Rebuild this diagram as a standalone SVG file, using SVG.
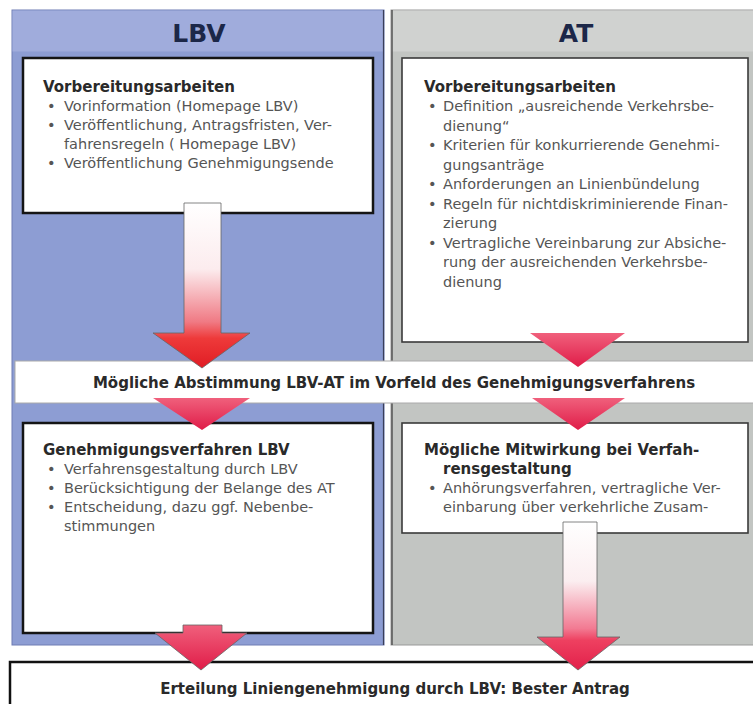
<svg xmlns="http://www.w3.org/2000/svg" width="753" height="704" viewBox="0 0 753 704">
<style>
.t{font-family:"DejaVu Sans","Liberation Sans",sans-serif;font-size:14.5px;fill:#555}
.b{font-family:"DejaVu Sans","Liberation Sans",sans-serif;font-size:15px;font-weight:bold;fill:#2a2a2a}
.h{font-family:"DejaVu Sans","Liberation Sans",sans-serif;font-size:25px;font-weight:bold;fill:#1c2748;text-anchor:middle}
.lbox{fill:#fff;stroke:#151515;stroke-width:2.5}
.abox{fill:#fff;stroke:#3a3a3a;stroke-width:1.6}
.shaft{stroke:#666;stroke-width:0.8}
</style>
<defs>
<linearGradient id="g1" gradientUnits="userSpaceOnUse" x1="0" y1="203" x2="0" y2="368">
<stop offset="0" stop-color="#ffffff"/><stop offset="0.4" stop-color="#fcecee"/><stop offset="0.72" stop-color="#f07a84"/><stop offset="0.82" stop-color="#ee3a3a"/><stop offset="1" stop-color="#e01c24"/>
</linearGradient>
<linearGradient id="g2" gradientUnits="userSpaceOnUse" x1="0" y1="522" x2="0" y2="670">
<stop offset="0" stop-color="#ffffff"/><stop offset="0.4" stop-color="#fbeef0"/><stop offset="0.72" stop-color="#f27a92"/><stop offset="0.8" stop-color="#ee4060"/><stop offset="1" stop-color="#e2204a"/>
</linearGradient>
<linearGradient id="hd" x1="0" y1="0" x2="0" y2="1">
<stop offset="0" stop-color="#f0607c"/><stop offset="1" stop-color="#e01c48"/>
</linearGradient>
</defs>
<rect width="753" height="704" fill="#fff"/>
<g id="col-lbv">
<rect x="12" y="10" width="372" height="635" fill="#8d9dd3" stroke="#6f7db3" stroke-width="1"/>
<rect x="12.5" y="10.5" width="371" height="41" fill="#a0acdc"/>
<line x1="383.5" y1="10" x2="383.5" y2="645" stroke="#3a3f5a" stroke-width="1.2"/>
<text class="h" x="199" y="42">LBV</text>
</g>
<g id="col-at">
<rect x="391" y="10" width="370" height="635" fill="#c2c5c2" stroke="#999" stroke-width="1"/>
<rect x="391.5" y="10.5" width="370" height="41" fill="#d0d2d0"/>
<line x1="392" y1="10" x2="392" y2="645" stroke="#555" stroke-width="1.5"/>
<text class="h" x="576" y="42">AT</text>
</g>
<g id="box-lbv-prep">
<rect class="lbox" x="23" y="58" width="350" height="155"/>
<text class="b" x="43" y="92">Vorbereitungsarbeiten</text>
<text class="t" x="47" y="111">•</text><text class="t" x="64" y="111">Vorinformation (Homepage LBV)</text>
<text class="t" x="47" y="130">•</text><text class="t" x="64" y="130">Veröffentlichung, Antragsfristen, Ver-</text>
<text class="t" x="64" y="149">fahrensregeln ( Homepage LBV)</text>
<text class="t" x="47" y="168">•</text><text class="t" x="64" y="168">Veröffentlichung Genehmigungsende</text>
</g>
<g id="box-at-prep">
<rect class="abox" x="402" y="58" width="346" height="284"/>
<text class="b" x="424" y="92">Vorbereitungsarbeiten</text>
<text class="t" x="428" y="111">•</text><text class="t" x="443" y="111">Definition „ausreichende Verkehrsbe-</text>
<text class="t" x="443" y="130.5">dienung“</text>
<text class="t" x="428" y="150">•</text><text class="t" x="443" y="150">Kriterien für konkurrierende Genehmi-</text>
<text class="t" x="443" y="169.5">gungsanträge</text>
<text class="t" x="428" y="189">•</text><text class="t" x="443" y="189">Anforderungen an Linienbündelung</text>
<text class="t" x="428" y="208.5">•</text><text class="t" x="443" y="208.5">Regeln für nichtdiskriminierende Finan-</text>
<text class="t" x="443" y="228">zierung</text>
<text class="t" x="428" y="247.5">•</text><text class="t" x="443" y="247.5">Vertragliche Vereinbarung zur Absiche-</text>
<text class="t" x="443" y="267">rung der ausreichenden Verkehrsbe-</text>
<text class="t" x="443" y="286.5">dienung</text>
</g>
<g id="band">
<rect x="15" y="361" width="745" height="42" fill="#fff" stroke="#aaa" stroke-width="1"/>
<text class="b" x="394" y="388" text-anchor="middle">Mögliche Abstimmung LBV-AT im Vorfeld des Genehmigungsverfahrens</text>
</g>
<g id="box-lbv-proc">
<rect class="lbox" x="23" y="423" width="350" height="210"/>
<text class="b" x="43" y="455">Genehmigungsverfahren LBV</text>
<text class="t" x="47" y="474">•</text><text class="t" x="64" y="474">Verfahrensgestaltung durch LBV</text>
<text class="t" x="47" y="493">•</text><text class="t" x="64" y="493">Berücksichtigung der Belange des AT</text>
<text class="t" x="47" y="512">•</text><text class="t" x="64" y="512">Entscheidung, dazu ggf. Nebenbe-</text>
<text class="t" x="64" y="531">stimmungen</text>
</g>
<g id="box-at-proc">
<rect class="abox" x="402" y="423" width="346" height="110"/>
<text class="b" x="424" y="455">Mögliche Mitwirkung bei Verfah-</text>
<text class="b" x="443" y="474">rensgestaltung</text>
<text class="t" x="428" y="493">•</text><text class="t" x="443" y="493">Anhörungsverfahren, vertragliche Ver-</text>
<text class="t" x="443" y="512">einbarung über verkehrliche Zusam-</text>
</g>
<g id="box-result">
<rect x="10" y="662" width="760" height="60" fill="#fff" stroke="#111" stroke-width="2.5"/>
<text class="b" x="395" y="694" text-anchor="middle">Erteilung Liniengenehmigung durch LBV: Bester Antrag</text>
</g>
<g id="connectors">
<path class="shaft" d="M184,203 H221 V333 H250 L202,368 L153,333 H184 Z" fill="url(#g1)"/>
<path d="M530,333 H625 L578,367 Z" fill="url(#hd)"/>
<path d="M153,398 H250 L202,430 Z" fill="url(#hd)"/>
<path d="M532,398 H625 L578,430 Z" fill="url(#hd)"/>
<path class="shaft" d="M563,522 H597 V637 H620 L578,670 L537,637 H563 Z" fill="url(#g2)"/>
<path class="shaft" d="M183,625 H222 V633 H247 L201,670 L155,633 H183 Z" fill="url(#hd)"/>
</g>
</svg>
